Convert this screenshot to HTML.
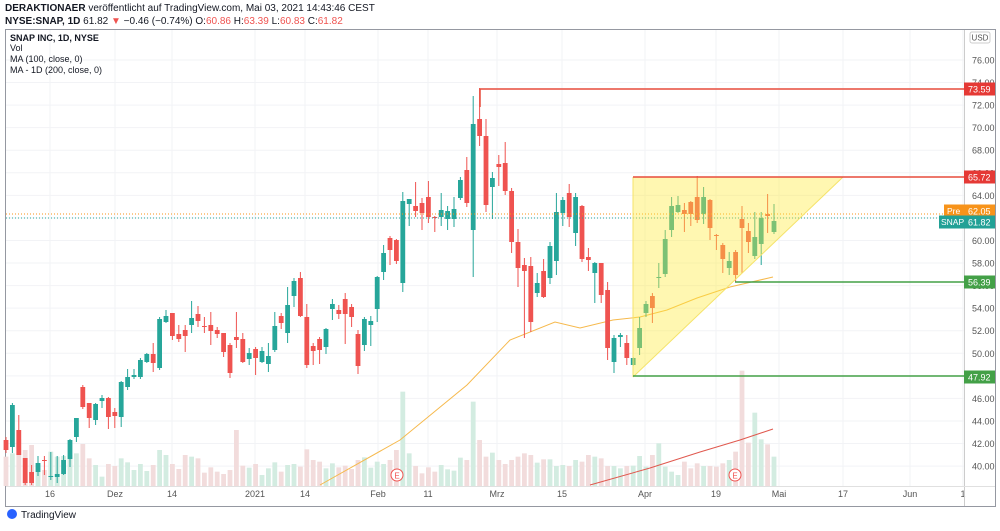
<!DOCTYPE html>
<html><head><meta charset="utf-8"><style>
body{margin:0;background:#fff;font-family:"Liberation Sans",sans-serif;}
</style></head><body>
<svg id="s" width="1000" height="526" xmlns="http://www.w3.org/2000/svg" font-family="Liberation Sans, sans-serif">
<rect width="1000" height="526" fill="#fff"/>
<text x="5" y="11" font-size="10" fill="#131722"><tspan font-weight="bold">DERAKTIONAER</tspan> veröffentlicht auf TradingView.com, Mai 03, 2021 14:43:46 CEST</text>
<text x="5" y="24" font-size="10" fill="#131722"><tspan font-weight="bold">NYSE:SNAP, 1D</tspan> 61.82 <tspan fill="#ef5350">▼</tspan> −0.46 (−0.74%) O:<tspan fill="#ef5350">60.86</tspan> H:<tspan fill="#ef5350">63.39</tspan> L:<tspan fill="#ef5350">60.83</tspan> C:<tspan fill="#ef5350">61.82</tspan></text>
<rect x="5.5" y="29.5" width="990" height="477" fill="none" stroke="#9598a1"/>
<g id="g"></g>
<text x="10" y="41" font-size="9" font-weight="bold" fill="#131722">SNAP INC, 1D, NYSE</text>
<text x="10" y="51" font-size="9" fill="#131722">Vol</text>
<text x="10" y="62" font-size="9" fill="#131722">MA (100, close, 0)</text>
<text x="10" y="73" font-size="9" fill="#131722">MA - 1D (200, close, 0)</text>
<circle cx="12" cy="514" r="5" fill="#2962ff"/>
<text x="21" y="518" font-size="10" fill="#131722">TradingView</text>
</svg>
<script>
const g=document.getElementById('g');let h='';
const Y=p=>60+(76-p)*11.28;
// grid
for(let p=40;p<=76;p+=2){const y=Y(p);h+=`<line x1="6" x2="964" y1="${y}" y2="${y}" stroke="#f2f3f6"/>`;h+=`<text x="972" y="${y+3.5}" font-size="9" fill="#555">${p.toFixed(2)}</text>`;}
const tl=[[50,'16'],[115,'Dez'],[172,'14'],[255,'2021'],[305,'14'],[378,'Feb'],[428,'11'],[497,'Mrz'],[562,'15'],[645,'Apr'],[716,'19'],[779,'Mai'],[843,'17'],[910,'Jun'],[963,'1']];
tl.forEach(([x,t])=>{h+=`<line x1="${x}" x2="${x}" y1="30" y2="486" stroke="#f2f3f6"/><text x="${x}" y="497" font-size="9" fill="#555" text-anchor="middle">${t}</text>`;});
h+=`<line x1="964.5" x2="964.5" y1="30" y2="506" stroke="#ccc"/><line x1="6" x2="995" y1="486.5" y2="486.5" stroke="#e0e0e0"/>`;
h+=`<rect x="970" y="32" width="20" height="11" rx="2" fill="#fff" stroke="#ccc"/><text x="980" y="40.5" font-size="8" fill="#555" text-anchor="middle">USD</text>`;
// volume
const v1=[860,850,808,840,825,885,900,845,860,858,855,850,822,865,885,920,882,888,865,877,900,882,903,885,840,855,882,897,855,860,865,908,892,905,912,900,780,887,893,882,915,895,877,905,885,882,890,838,870,875,895,880,892,887,897,870,862,893,875];
const v2=[1152,1140,1110,935,1120,1158,1180,1162,1175,1155,1168,1172,1133,1140,965,1080,1130,1118,1140,1152,1140,1130,1120,1125,1148,1138,1138,1158,1155,1158,1140,1145,1125,1130,1135,1158,1158,1165,1158,1157,1128,1160,1125,1090,1160,1175,1185,1145,1165,1150,1158,1158,1160,1150,1140,1115,872,1088,998,1078,1093,1130];
const vt=v1.map(z=>170+z/3).concat(v2.map(z=>80+z/3));
const C=[[440,450,437,453,0],[447,405,403,453],[430,455,415,455],[458,483,458,485],[472,483,465,485],[472,463,456,476],[460,461,456,475],[477,476,452,480],[477,474,456,483],[474,460,455,475],[459,440,439,467],[437,418,418,442],[387,407,385,409],[403,418,403,428],[420,404,403,425],[401,398,395,408],[398,417,397,429],[412,416,408,428],[417,382,381,427],[387,377,369,390],[377,375,369,379],[377,360,358,379],[362,354,353,363],[354,363,343,372],[368,319,317,370],[322,316,310,323],[313,336,313,340],[334,339,325,342],[330,336,325,352],[325,318,301,333],[314,321,306,327],[326,327,317,333],[325,331,312,345],[330,334,327,338],[333,352,333,357],[345,373,343,378],[337,340,312,348],[339,362,333,363],[359,353,348,365],[349,358,347,375],[362,351,347,363],[364,356,343,372],[350,326,312,352],[316,323,313,329],[333,305,287,343],[296,281,278,307],[278,316,272,317],[317,365,304,368],[346,351,343,365],[339,350,337,364],[347,329,328,354],[309,304,299,320],[310,314,305,319],[299,314,293,344],[307,317,304,327],[334,366,330,374],[345,319,317,351],[325,321,316,346],[309,277,276,322],[272,253,245,280],[238,250,236,265],[240,261,239,264],[283,201,192,292],[204,199,199,226],[206,211,182,217],[203,213,198,230],[197,217,181,223],[217,218,216,232],[217,210,193,226],[219,211,206,230],[219,209,197,227],[198,180,177,200],[170,203,157,207],[230,124,96,277],[119,136,88,146],[136,205,119,212],[187,178,172,219],[164,167,155,186],[163,191,142,195],[191,242,188,253],[242,268,229,287],[265,271,258,338],[266,322,257,332],[293,283,273,297],[271,297,259,298],[278,246,242,284],[261,212,193,275],[213,200,197,226],[193,217,184,227],[233,197,193,246],[206,259,205,262],[257,260,248,271],[273,263,262,303],[263,295,263,303],[290,348,282,360],[362,338,335,373],[337,335,333,347],[343,358,335,365],[365,358,357,366],[348,328,317,355],[313,304,301,317],[296,308,293,323],[278,277,263,288],[274,239,230,277],[230,206,197,237],[212,205,196,213],[210,214,203,232],[202,214,201,226],[197,220,176,223],[214,197,187,224],[200,228,199,240],[235,236,234,250],[245,259,243,273],[268,261,252,275],[252,275,250,282],[219,228,206,273],[231,242,223,253],[256,237,212,259],[244,218,212,265],[214,216,194,233],[232,221,204,234]];
C.forEach((c,i)=>{const x=6+i*6.4;const up=c[1]<c[0];const t=vt[i]||460;
h+=`<rect x="${x-2.4}" y="${t}" width="4.8" height="${486-t}" fill="${up?'#d3ece1':'#f2dcdc'}"/>`;});
// MA lines
h+=`<polyline fill="none" stroke="#f6b94c" stroke-width="1" points="320,485 400,440 467,385 510,340 555,322 580,328 613,320 640,317 667,310 697,298 730,287 773,277"/>`;
h+=`<polyline fill="none" stroke="#e0584e" stroke-width="1" points="590,485 650,468 700,452 740,440 773,429"/>`;
h+=`<circle cx="397" cy="475" r="6" fill="#fff" stroke="#ef5350"/><text x="397" y="478.5" font-size="8" fill="#ef5350" text-anchor="middle">E</text>`;
h+=`<circle cx="735" cy="475" r="6" fill="#fff" stroke="#ef5350"/><text x="735" y="478.5" font-size="8" fill="#ef5350" text-anchor="middle">E</text>`;
C.forEach((c,i)=>{const x=6+i*6.4;const up=c[1]<c[0];const col=up?'#26a69a':'#ef5350';
const top=Math.min(c[0],c[1]),bh=Math.max(1,Math.abs(c[0]-c[1]));
h+=`<line x1="${x}" x2="${x}" y1="${c[2]}" y2="${c[3]}" stroke="${col}"/><rect x="${x-2.4}" y="${top}" width="4.8" height="${bh}" fill="${col}"/>`;});
// price lines
h+=`<line x1="6" x2="964" y1="214" y2="214" stroke="#f7931a" stroke-dasharray="1,2"/><line x1="6" x2="964" y1="218" y2="218" stroke="#26a69a" stroke-dasharray="1,2"/>`;
// triangle
h+=`<polygon points="633,177 843,177 633,377" fill="rgba(255,235,59,0.4)"/><line x1="633" y1="177" x2="633" y2="377" stroke="#f5e36a"/><line x1="633" y1="377" x2="843" y2="177" stroke="#f5e36a"/>`;
h+=`<polyline fill="none" stroke="#e74c3c" stroke-width="1.5" points="480,107 480,89 964,89"/>`;
h+=`<line x1="633" x2="964" y1="177" y2="177" stroke="#e74c3c" stroke-width="1.5"/>`;
h+=`<line x1="735" x2="964" y1="282" y2="282" stroke="#43a047" stroke-width="1.5"/>`;
h+=`<line x1="633" x2="964" y1="376" y2="376" stroke="#43a047" stroke-width="1.5"/>`;
const lab=(y,t,c)=>{h+=`<rect x="964" y="${y-6.5}" width="31" height="13" fill="${c}"/><text x="968" y="${y+3.5}" font-size="9" fill="#fff">${t}</text>`;};
lab(89,'73.59','#e53935');lab(177,'65.72','#e53935');lab(282,'56.39','#43a047');lab(377,'47.92','#43a047');
lab(211,'62.05','#f7931a');lab(222,'61.82','#22a196');
h+=`<rect x="944" y="204.5" width="20" height="13" fill="#f7931a"/><text x="947" y="214" font-size="8.5" fill="#fff">Pre</text>`;
h+=`<rect x="939" y="215.5" width="25" height="13" fill="#22a196"/><text x="941" y="225" font-size="8.5" fill="#fff">SNAP</text>`;
g.innerHTML=h;
</script>
</body></html>
